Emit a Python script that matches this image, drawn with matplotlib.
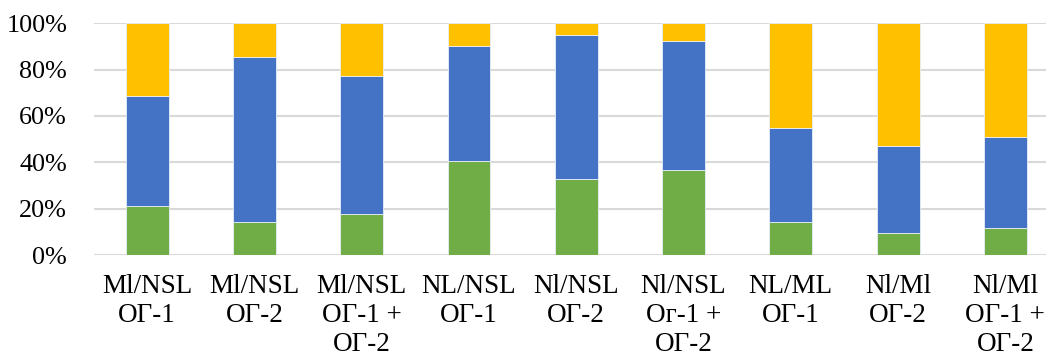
import matplotlib
matplotlib.use("Agg")
import matplotlib.pyplot as plt
import numpy as np
from matplotlib.ticker import PercentFormatter

categories = [
    "Ml/NSL\nОГ-1",
    "Ml/NSL\nОГ-2",
    "Ml/NSL\nОГ-1 +\nОГ-2",
    "NL/NSL\nОГ-1",
    "Nl/NSL\nОГ-2",
    "Nl/NSL\nОг-1 +\nОГ-2",
    "NL/ML\nОГ-1",
    "Nl/Ml\nОГ-2",
    "Nl/Ml\nОГ-1 +\nОГ-2",
]
green_share = [21.1, 14.2, 17.7, 40.4, 33.0, 36.6, 14.1, 9.3, 11.5]
blue_share = [47.6, 71.1, 59.5, 49.8, 62.0, 55.9, 40.5, 37.8, 39.5]
yellow_share = [31.3, 14.7, 22.8, 9.8, 5.0, 7.5, 45.4, 52.9, 49.0]
y_ticks = [0, 20, 40, 60, 80, 100]

plt.rcParams["font.family"] = ["Liberation Serif", "DejaVu Serif"]

fig = plt.figure(figsize=(10.46, 3.59), dpi=100)
ax = fig.add_axes([93.5 / 1046, 104 / 359, 965.5 / 1046, 231.7 / 359])

x = np.arange(len(categories))
g = np.array(green_share)
b = np.array(blue_share)
yl = np.array(yellow_share)
w = 0.4
edge = dict(edgecolor="#e8eef7", linewidth=0.6)
ax.bar(x, g, width=w, color="#70AD47", zorder=3, **edge)
ax.bar(x, b, width=w, bottom=g, color="#4472C4", zorder=3, **edge)
ax.bar(x, yl, width=w, bottom=g + b, color="#FFC000", zorder=3, **edge)

ax.set_xlim(-0.5, len(categories) - 0.5)
ax.set_ylim(0, 100)
ax.set_yticks(y_ticks)
ax.yaxis.set_major_formatter(PercentFormatter(decimals=0))
ax.set_xticks(x)
ax.set_xticklabels(categories, linespacing=1.2)
ax.tick_params(axis="y", length=0, pad=19, labelsize=18.8)
ax.tick_params(axis="x", length=0, pad=14, labelsize=19.5)
for s in ax.spines.values():
    s.set_visible(False)
ax.grid(axis="y", color="#D9D9D9", linewidth=1.5, zorder=0)
ax.set_axisbelow(True)

fig.savefig("out.png", dpi=100)
